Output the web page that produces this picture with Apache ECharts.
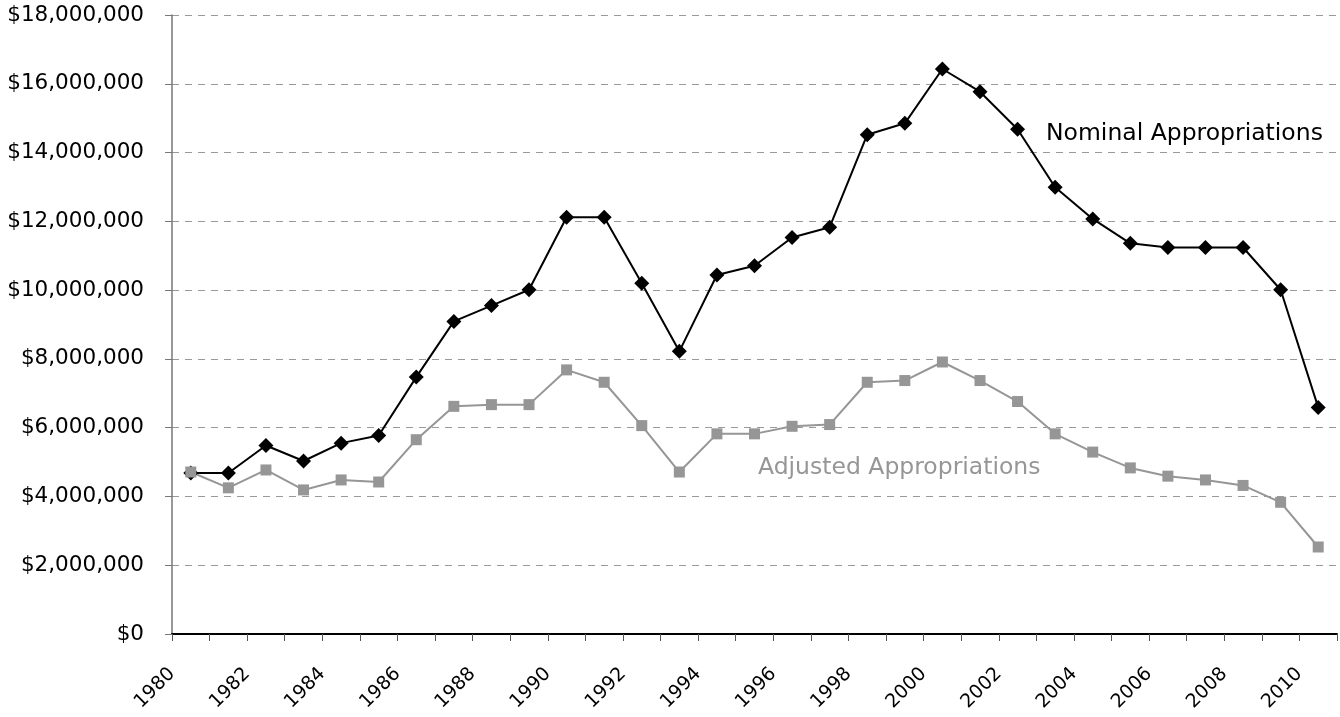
<!DOCTYPE html>
<html><head><meta charset="utf-8">
<script src="https://cdn.jsdelivr.net/npm/echarts@6/dist/echarts.min.js"></script>
<style>html,body{margin:0;padding:0;background:#fff}#c{width:1340px;height:717px}</style>
</head><body><div id="c"></div>
<script>
const years = ['1980','1981','1982','1983','1984','1985','1986','1987','1988','1989',
  '1990','1991','1992','1993','1994','1995','1996','1997','1998','1999',
  '2000','2001','2002','2003','2004','2005','2006','2007','2008','2009','2010'];
const nominal = [4680000, 4680000, 5480000, 5030000, 5550000, 5770000, 7470000, 9090000, 9550000, 10010000,
  12120000, 12120000, 10200000, 8220000, 10440000, 10710000, 11530000, 11830000, 14520000, 14850000,
  16430000, 15770000, 14680000, 12990000, 12070000, 11360000, 11240000, 11240000, 11240000, 10010000, 6590000];
const adjusted = [4710000, 4250000, 4770000, 4190000, 4480000, 4420000, 5650000, 6620000, 6670000, 6670000,
  7680000, 7320000, 6060000, 4710000, 5820000, 5820000, 6040000, 6090000, 7320000, 7370000,
  7910000, 7370000, 6760000, 5820000, 5290000, 4830000, 4590000, 4480000, 4320000, 3830000, 2530000];
const seriesNames = ['Nominal Appropriations', 'Adjusted Appropriations'];
const yearLabelStart = 1980, yearLabelEnd = 2011, yearLabelStep = 2;
const yMin = 0, yMax = 18000000, yStep = 2000000;

const FONT = '"DejaVu Sans", sans-serif';
const chart = echarts.init(document.getElementById('c'), null, {renderer: 'canvas'});
chart.setOption({
  animation: false,
  backgroundColor: '#fff',
  grid: {left: 172, right: 3, top: 15, bottom: 83, containLabel: false},
  xAxis: [
    {
      type: 'category', data: years, boundaryGap: true, position: 'bottom',
      axisLine: {lineStyle: {color: '#000', width: 2}},
      axisTick: {show: true, interval: 0, length: 7, lineStyle: {color: '#555', width: 1}},
      axisLabel: {show: false},
      splitLine: {show: false}
    },
    {
      type: 'value', min: yearLabelStart, max: yearLabelEnd, interval: yearLabelStep, position: 'bottom',
      axisLine: {show: false}, axisTick: {show: false}, splitLine: {show: false},
      axisLabel: {
        rotate: 45, margin: 37, fontFamily: FONT, fontSize: 19, color: '#000',
        showMaxLabel: false,
        formatter: v => (v % 2 === 0 && v <= 2010) ? String(v) : ''
      }
    }
  ],
  yAxis: {
    type: 'value', min: yMin, max: yMax, interval: yStep,
    axisLine: {show: true, lineStyle: {color: '#777', width: 1.5}},
    axisTick: {show: true, length: 7, lineStyle: {color: '#777'}},
    splitLine: {show: true, lineStyle: {color: '#9a9a9a', type: [7, 6], width: 1}},
    axisLabel: {
      margin: 28, fontFamily: FONT, fontSize: 21.5, color: '#000',
      formatter: v => '$' + v.toLocaleString('en-US')
    }
  },
  series: [
    {
      name: seriesNames[0], type: 'line', data: nominal, xAxisIndex: 0,
      symbol: 'diamond', symbolSize: 15, showAllSymbol: true,
      lineStyle: {color: '#000', width: 2}, itemStyle: {color: '#000'}
    },
    {
      name: seriesNames[1], type: 'line', data: adjusted, xAxisIndex: 0,
      symbol: 'rect', symbolSize: 11, showAllSymbol: true,
      lineStyle: {color: '#969696', width: 2}, itemStyle: {color: '#969696'}
    }
  ],
  graphic: [
    {type: 'text', left: 1046, top: 122, style: {text: seriesNames[0], font: '23.5px ' + FONT, fill: '#000'}},
    {type: 'text', left: 758, top: 456, style: {text: seriesNames[1], font: '23.5px ' + FONT, fill: '#969696'}}
  ]
});
</script></body></html>
